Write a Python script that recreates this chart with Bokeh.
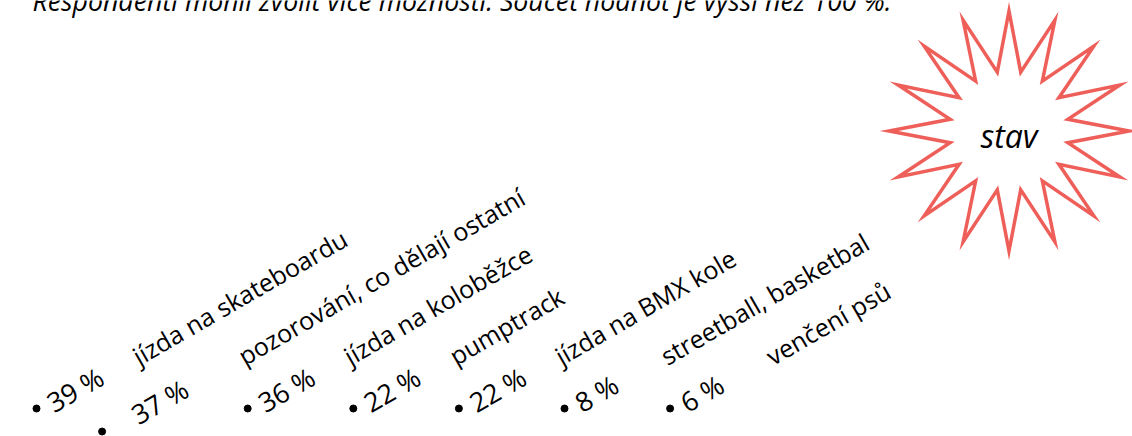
import math
from bokeh.plotting import figure
from bokeh.models import Range1d, ColumnDataSource
from bokeh.embed import file_html
from bokeh.resources import INLINE
from bokeh.core.properties import value

# ---- data ----
categories = ["jízda na skateboardu", "pozorování, co dělají ostatní", "jízda na koloběžce",
              "pumptrack", "jízda na BMX kole", "streetball, basketbal", "venčení psů"]
values = [39, 37, 36, 22, 22, 8, 6]
header = "Respondenti mohli zvolit více možností. Součet hodnot je vyšší než 100 %."
badge = "stav"

# ---- layout ----
W, H = 1132, 436
STEP = 105.6
BX0, BY0 = 36, 408          # first bullet
PCT_DX, PCT_DY = 12.5, -4   # percent text relative to bullet
LAB_DX, LAB_Y = 98, 357     # category label relative to bullet column
# the second entry wrapped onto a lower line
bullet_shift = [(0, 0), (-40, 23), (0, 0), (0, 0), (0, 0), (0, 0), (0, 0)]
pct_shift = [(0, 0), (-21, 12), (0, 0), (0, 0), (0, 0), (0, 0), (0, 0)]
ANG = math.radians(30)
FONT = "Open Sans"

p = figure(width=W, height=H, x_range=Range1d(0, W), y_range=Range1d(H, 0),
           output_backend="svg", toolbar_location=None, min_border=0,
           x_axis_type=None, y_axis_type=None)
p.grid.visible = False
p.outline_line_color = None
p.background_fill_color = "white"
p.border_fill_color = "white"

n = len(categories)
col_x = [BX0 + STEP * i for i in range(n)]
bx = [col_x[i] + bullet_shift[i][0] for i in range(n)]
by = [BY0 + bullet_shift[i][1] for i in range(n)]
px = [col_x[i] + PCT_DX + pct_shift[i][0] for i in range(n)]
py = [BY0 + PCT_DY + pct_shift[i][1] for i in range(n)]
lx = [col_x[i] + LAB_DX for i in range(n)]
ly = [LAB_Y for i in range(n)]

src = ColumnDataSource(dict(bx=bx, by=by, px=px, py=py, lx=lx, ly=ly,
                            cat=categories, pct=[f"{v} %" for v in values]))

p.scatter("bx", "by", source=src, size=7, color="black")
p.text("px", "py", text="pct", source=src, angle=ANG, text_align="left",
       text_baseline="alphabetic", text_font=value(FONT), text_font_size="27px",
       text_color="black")
p.text("lx", "ly", text="cat", source=src, angle=ANG, text_align="left",
       text_baseline="alphabetic", text_font=value(FONT), text_font_size="25px",
       text_color="black")

# header (cut at the top of the page)
p.text(x=[32], y=[0], text=[header], text_align="left", text_baseline="alphabetic",
       text_font=value(FONT), text_font_style="italic", text_font_size="26.7px",
       text_color="black")

# star badge
CX, CY, R_OUT, R_IN, NPTS = 1008.5, 130.5, 120, 60, 16
sx, sy = [], []
for k in range(2 * NPTS):
    r = R_OUT if k % 2 == 0 else R_IN
    t = math.pi * k / NPTS
    sx.append(CX + r * math.sin(t))
    sy.append(CY - r * math.cos(t))
p.patch(sx, sy, fill_color="white", line_color="#EF5F5A", line_width=3.5, line_join="miter")
p.text(x=[CX], y=[135], text=[badge], text_align="center", text_baseline="alphabetic",
       text_font=value(FONT), text_font_style="italic", text_font_size="32px",
       text_color="black")

open("out.html", "w").write(file_html(p, INLINE))
